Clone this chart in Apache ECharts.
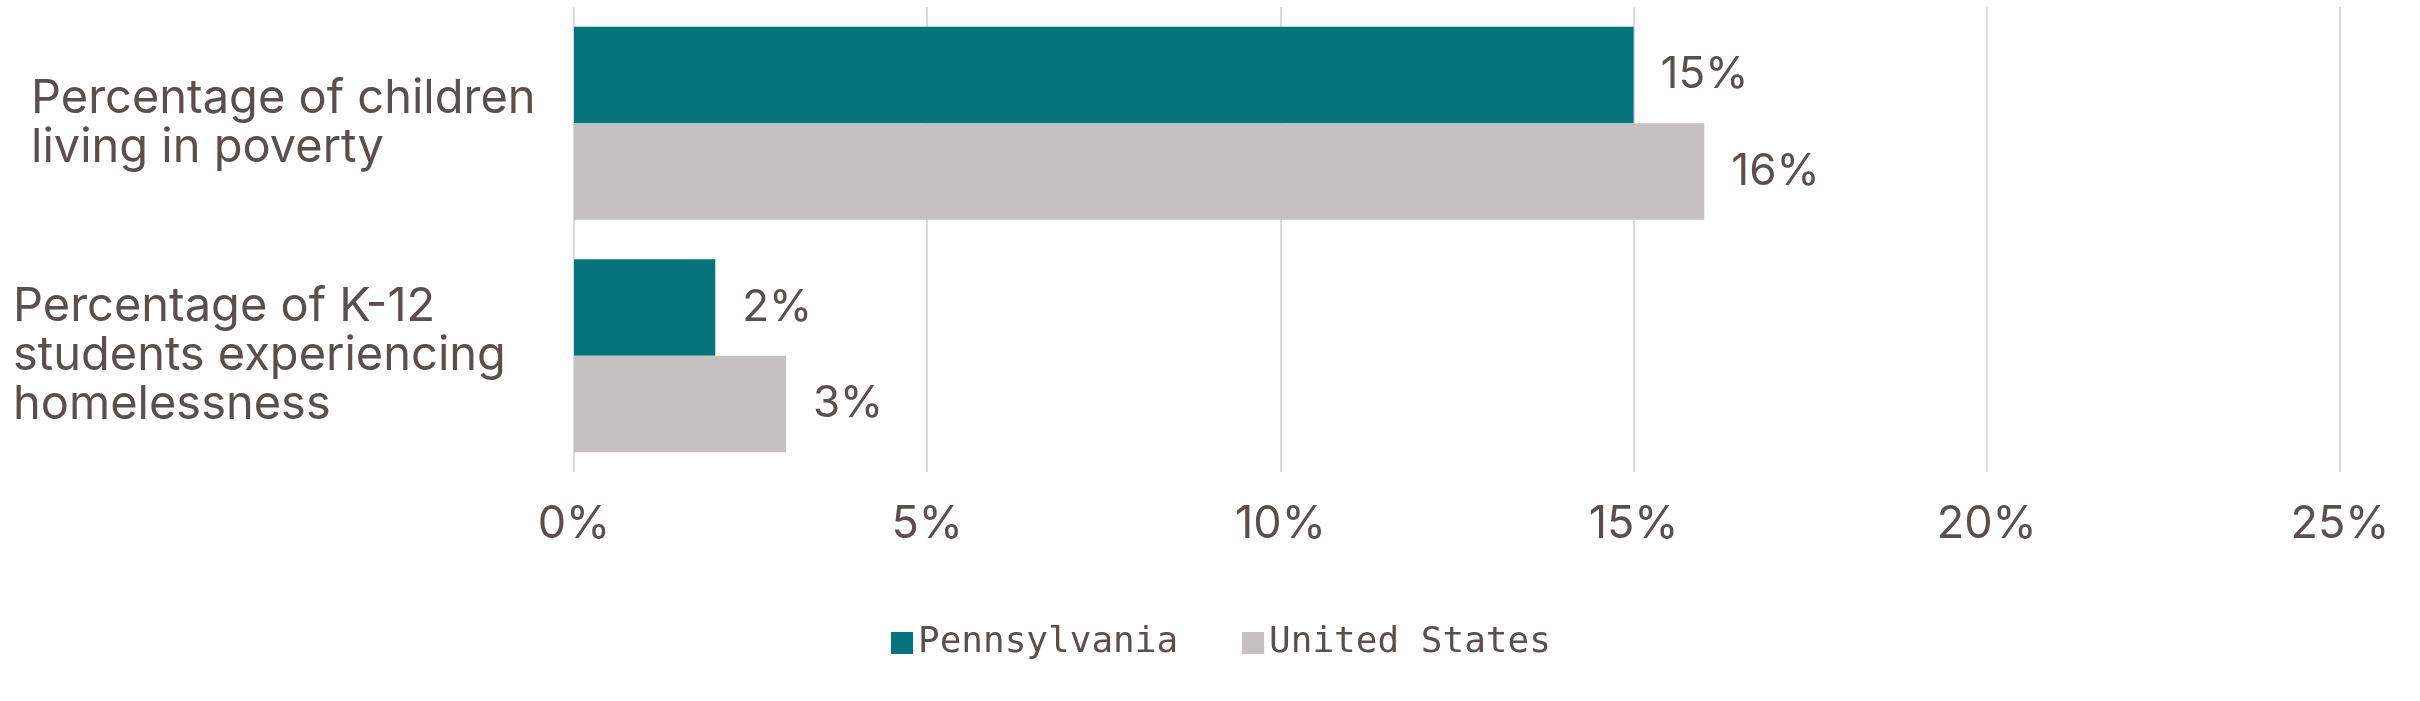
<!DOCTYPE html>
<html>
<head>
<meta charset="utf-8">
<style>
  html, body { margin: 0; padding: 0; background: #ffffff; }
  #chart { width: 2420px; height: 701px; }
</style>
<script src="https://cdn.jsdelivr.net/npm/echarts@6/dist/echarts.min.js"></script>
</head>
<body>
<div id="chart"></div>
<script>
const categories = [
  "Percentage of children\nliving in poverty",
  "Percentage of K-12\nstudents experiencing\nhomelessness"
];
const seriesNames = ["Pennsylvania", "United States"];
const pennsylvania = [15, 2];
const unitedStates = [16, 3];
const xTicks = { min: 0, max: 25, interval: 5 };

const textColor = "#594F4C";
const chart = echarts.init(document.getElementById("chart"), null, { renderer: "canvas" });

const labelStyle = {
  show: true,
  position: "right",
  distance: 27,
  formatter: "{c}%",
  fontFamily: "Inter",
  fontSize: 44,
  color: textColor
};

const catTextStyle = { fontFamily: "Inter", fontSize: 47, lineHeight: 49, color: textColor };

chart.setOption({
  animation: false,
  backgroundColor: "#ffffff",
  grid: { left: 574, right: 80, top: 7, bottom: 229, containLabel: false },
  legend: {
    left: 886,
    top: 620,
    itemWidth: 22,
    itemHeight: 22,
    itemGap: 64,
    icon: "rect",
    data: seriesNames,
    textStyle: {
      fontFamily: "DejaVu Sans Mono",
      fontSize: 36,
      lineHeight: 36,
      color: textColor
    }
  },
  xAxis: {
    type: "value",
    min: xTicks.min,
    max: xTicks.max,
    interval: xTicks.interval,
    axisLine: { show: false },
    axisTick: { show: false },
    splitLine: { show: true, lineStyle: { color: "#D9D9D9", width: 2 } },
    axisLabel: {
      formatter: "{value}%",
      fontFamily: "Inter",
      fontSize: 45,
      color: textColor,
      margin: 30
    }
  },
  yAxis: {
    type: "category",
    data: categories,
    inverse: true,
    axisLine: { show: false },
    axisTick: { show: false },
    axisLabel: {
      align: "left",
      margin: 561,
      fontFamily: "Inter",
      fontSize: 47,
      lineHeight: 49,
      color: textColor,
      formatter: function (value, index) {
        const tag = index === 0 ? "a" : "b";
        return value.split("\n").map(function (line) { return "{" + tag + "|" + line + "}"; }).join("\n");
      },
      rich: {
        a: Object.assign({ padding: [0, 0, 0, 18] }, catTextStyle),
        b: Object.assign({ padding: [0, 0, 0, 0] }, catTextStyle)
      }
    }
  },
  series: [
    {
      name: seriesNames[0],
      type: "bar",
      data: pennsylvania,
      barGap: "0%",
      barCategoryGap: "17%",
      itemStyle: { color: "#03747C" },
      label: labelStyle
    },
    {
      name: seriesNames[1],
      type: "bar",
      data: unitedStates,
      barGap: "0%",
      barCategoryGap: "17%",
      itemStyle: { color: "#C4C1C0" },
      label: labelStyle
    }
  ]
});
</script>
</body>
</html>
